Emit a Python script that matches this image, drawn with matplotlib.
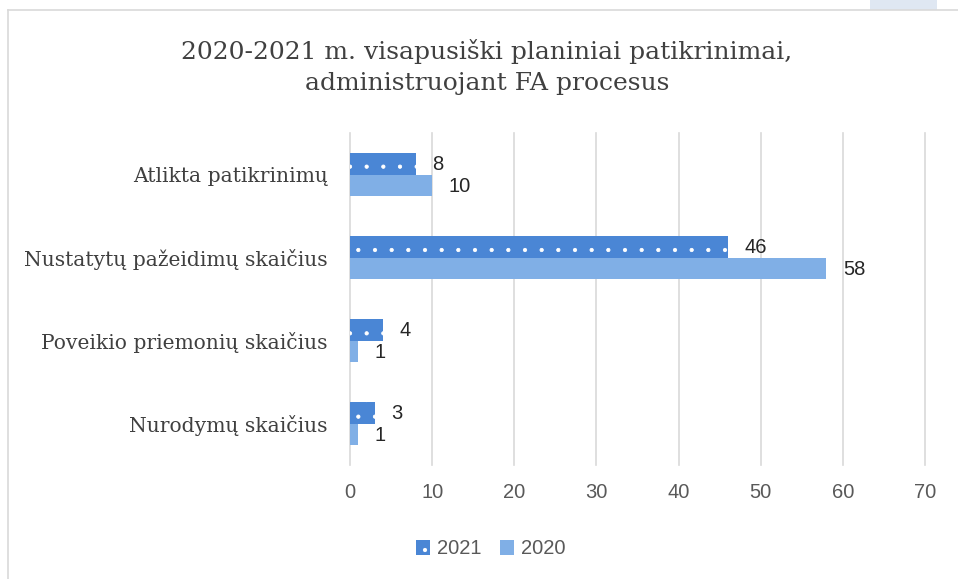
import matplotlib
matplotlib.use("Agg")
import matplotlib.pyplot as plt
import numpy as np
from matplotlib.patches import Rectangle
from matplotlib.lines import Line2D

categories = ["Atlikta patikrinimų", "Nustatytų pažeidimų skaičius",
              "Poveikio priemonių skaičius", "Nurodymų skaičius"]
values_2021 = [8, 46, 4, 3]
values_2020 = [10, 58, 1, 1]
series_names = ["2021", "2020"]
xticks = [0, 10, 20, 30, 40, 50, 60, 70]
title = "2020-2021 m. visapusiški planiniai patikrinimai,\nadministruojant FA procesus"

W, H = 958, 579
plt.rcParams["hatch.linewidth"] = 0.6
fig = plt.figure(figsize=(W / 100, H / 100), dpi=100)

# frame decorations
fig.add_artist(Rectangle((870 / W, 1 - 10 / H), 67 / W, 10 / H, transform=fig.transFigure,
                         facecolor="#dfe7f2", edgecolor="none"))
fig.add_artist(Line2D([8 / W, 1], [1 - 10 / H, 1 - 10 / H], transform=fig.transFigure,
                      color="#d9d9d9", lw=1.2))
fig.add_artist(Line2D([8 / W, 8 / W], [0, 1 - 10 / H], transform=fig.transFigure,
                      color="#d9d9d9", lw=1.2))

left, right = 350 / W, 925 / W
top, bottom = 1 - 133 / H, 1 - 465 / H
ax = fig.add_axes([left, bottom, right - left, top - bottom])

c2021 = "#4a86d5"
c2020 = "#80afe6"
n = len(categories)
y = np.arange(n)
h = 0.265

b1 = ax.barh(y - h / 2, values_2021, height=h, color=c2021, edgecolor="white",
             linewidth=0, hatch=".", label=series_names[0])
b2 = ax.barh(y + h / 2, values_2020, height=h, color=c2020, linewidth=0,
             label=series_names[1])

for bars, vals in ((b1, values_2021), (b2, values_2020)):
    for rect, v in zip(bars, vals):
        ax.annotate(str(v), (rect.get_width(), rect.get_y() + rect.get_height() / 2),
                    xytext=(12, -1), textcoords="offset points", ha="left", va="center",
                    fontsize=14.5, color="#262626", family="Liberation Sans")

ax.set_xlim(0, 70)
ax.set_ylim(n - 0.5, -0.5)
ax.set_xticks(xticks)
ax.set_xticklabels([str(t) for t in xticks], fontsize=14.5, color="#595959",
                   family="Liberation Sans")
ax.set_yticks(y)
ax.set_yticklabels(categories, fontsize=14.6, color="#404040", family="DejaVu Serif")
ax.tick_params(axis="both", length=0)
ax.tick_params(axis="x", pad=13)
ax.tick_params(axis="y", pad=16)
ax.grid(axis="x", color="#d9d9d9", lw=1.2)
for gl in ax.get_xgridlines():
    gl.set_clip_on(False)
ax.set_axisbelow(True)
for s in ax.spines.values():
    s.set_visible(False)

fig.text(487 / W, 1 - 67 / H, title, ha="center", va="center", fontsize=18,
         color="#404040", family="DejaVu Serif", linespacing=1.45)

leg = fig.legend(handles=[b1, b2], labels=series_names, loc="center",
                 bbox_to_anchor=(491 / W, 1 - 549 / H), ncol=2, frameon=False,
                 prop={"family": "Liberation Sans", "size": 14.5},
                 handlelength=0.7, handleheight=0.7, columnspacing=0.9, handletextpad=0.35)
for t in leg.get_texts():
    t.set_color("#595959")

fig.savefig("out.png", dpi=100, facecolor="white")
